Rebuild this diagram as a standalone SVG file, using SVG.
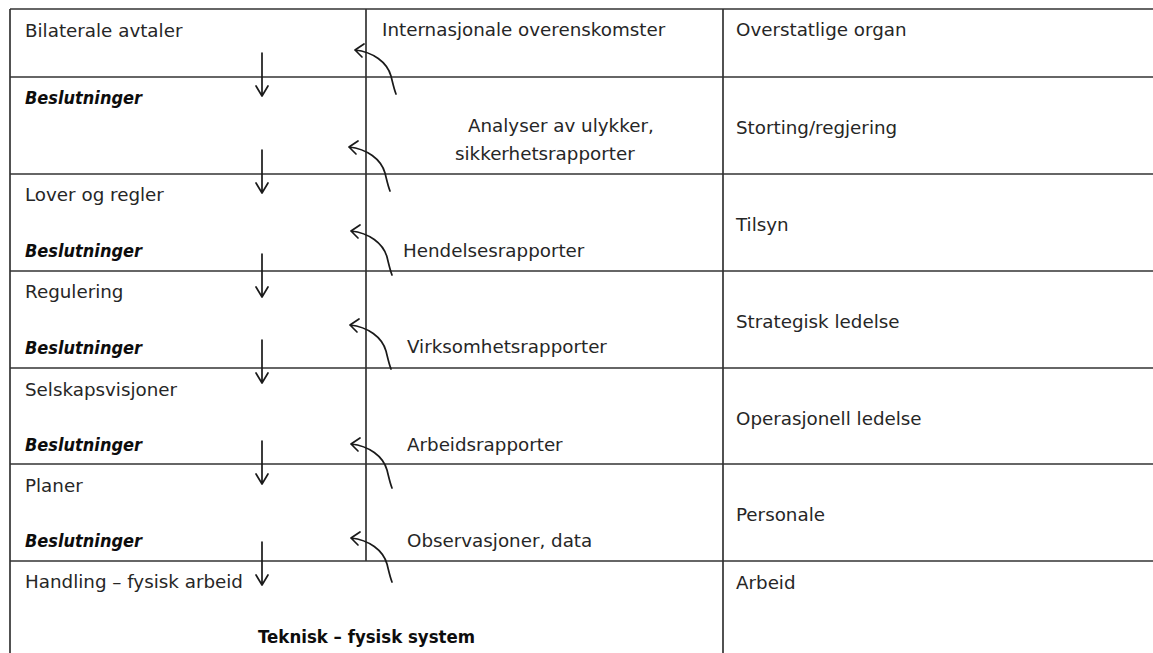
<svg xmlns="http://www.w3.org/2000/svg" width="1153" height="653" viewBox="0 0 1153 653">
  <style>
    .grid { stroke: #333; stroke-width: 1.7; fill: none; }
    .lbl { font-family: "DejaVu Sans", "Liberation Sans", sans-serif; font-size: 18.3px; fill: #262626; }
    .dec { font-family: "DejaVu Sans", "Liberation Sans", sans-serif; font-size: 18.3px; font-weight: bold; font-style: italic; fill: #0d0d0d; }
    .sys { font-family: "DejaVu Sans", "Liberation Sans", sans-serif; font-size: 18.3px; font-weight: bold; fill: #0d0d0d; }
    .flow { stroke: #1a1a1a; stroke-width: 1.7; fill: none; stroke-linecap: round; stroke-linejoin: round; }
  </style>
  <defs>
    <!-- straight downward decision arrow, tip at origin -->
    <path id="down" d="M0 -43 V0 M-6 -10 L0 0 L6 -10"/>
    <!-- curved feedback arrow, tip at origin, tail lower right -->
    <path id="back" d="M0 0 C18 2 32 12 36 26 C38 34 39 39 41 44 M0 0 L9 -6 M0 0 L7 7"/>
  </defs>

  <rect width="1153" height="653" fill="#fff"/>

  <!-- table grid -->
  <g id="grid" class="grid">
    <line x1="10" y1="9" x2="10" y2="653"/>
    <line x1="10" y1="9" x2="1153" y2="9"/>
    <line x1="10" y1="77" x2="1153" y2="77"/>
    <line x1="10" y1="174" x2="1153" y2="174"/>
    <line x1="10" y1="271" x2="1153" y2="271"/>
    <line x1="10" y1="368" x2="1153" y2="368"/>
    <line x1="10" y1="464" x2="1153" y2="464"/>
    <line x1="10" y1="561" x2="1153" y2="561"/>
    <line x1="366" y1="9" x2="366" y2="561"/>
    <line x1="723" y1="9" x2="723" y2="653"/>
  </g>

  <!-- rows: rules and decisions | reports | actors -->
  <g id="level-international">
    <text class="lbl" x="25" y="37">Bilaterale avtaler</text>
    <text class="lbl" x="382" y="36">Internasjonale overenskomster</text>
    <text class="lbl" x="736" y="36">Overstatlige organ</text>
  </g>
  <g id="level-government">
    <text class="dec" x="25" y="104" textLength="117" lengthAdjust="spacingAndGlyphs">Beslutninger</text>
    <text class="lbl" x="468" y="132">Analyser av ulykker,</text>
    <text class="lbl" x="455" y="160">sikkerhetsrapporter</text>
    <text class="lbl" x="736" y="134">Storting/regjering</text>
  </g>
  <g id="level-authority">
    <text class="lbl" x="25" y="201">Lover og regler</text>
    <text class="dec" x="25" y="257" textLength="117" lengthAdjust="spacingAndGlyphs">Beslutninger</text>
    <text class="lbl" x="403" y="257">Hendelsesrapporter</text>
    <text class="lbl" x="736" y="231">Tilsyn</text>
  </g>
  <g id="level-strategic">
    <text class="lbl" x="25" y="298">Regulering</text>
    <text class="dec" x="25" y="354" textLength="117" lengthAdjust="spacingAndGlyphs">Beslutninger</text>
    <text class="lbl" x="407" y="353">Virksomhetsrapporter</text>
    <text class="lbl" x="736" y="328">Strategisk ledelse</text>
  </g>
  <g id="level-operational">
    <text class="lbl" x="25" y="396">Selskapsvisjoner</text>
    <text class="dec" x="25" y="451" textLength="117" lengthAdjust="spacingAndGlyphs">Beslutninger</text>
    <text class="lbl" x="407" y="451">Arbeidsrapporter</text>
    <text class="lbl" x="736" y="425">Operasjonell ledelse</text>
  </g>
  <g id="level-staff">
    <text class="lbl" x="25" y="492">Planer</text>
    <text class="dec" x="25" y="547" textLength="117" lengthAdjust="spacingAndGlyphs">Beslutninger</text>
    <text class="lbl" x="407" y="547">Observasjoner, data</text>
    <text class="lbl" x="736" y="521">Personale</text>
  </g>
  <g id="level-work">
    <text class="lbl" x="25" y="588">Handling – fysisk arbeid</text>
    <text class="sys" x="258" y="643" textLength="217" lengthAdjust="spacingAndGlyphs">Teknisk – fysisk system</text>
    <text class="lbl" x="736" y="589">Arbeid</text>
  </g>

  <!-- connectors: decisions downward, feedback upward -->
  <g id="connectors" class="flow">
    <use href="#down" x="262" y="96"/>
    <use href="#down" x="262" y="193"/>
    <use href="#down" x="262" y="297"/>
    <use href="#down" x="262" y="383"/>
    <use href="#down" x="262" y="484"/>
    <use href="#down" x="262" y="585"/>
    <use href="#back" x="355" y="50"/>
    <use href="#back" x="349" y="147"/>
    <use href="#back" x="351" y="231"/>
    <use href="#back" x="350" y="325"/>
    <use href="#back" x="351" y="444"/>
    <use href="#back" x="351" y="538"/>
  </g>
</svg>
